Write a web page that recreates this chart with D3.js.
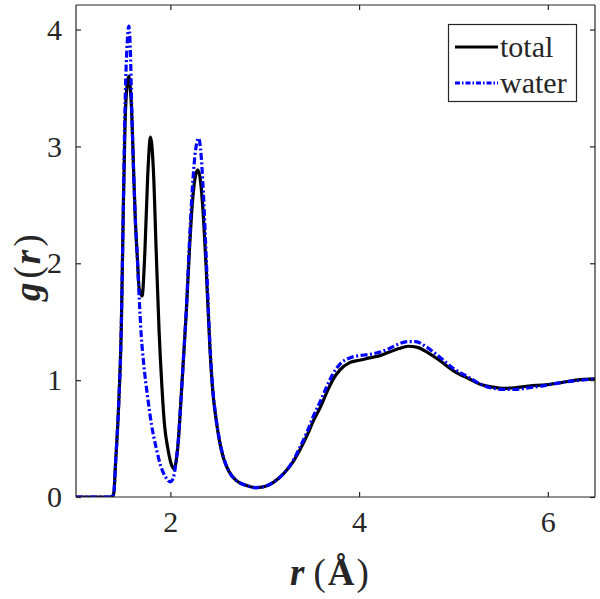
<!DOCTYPE html>
<html>
<head>
<meta charset="utf-8">
<script src="https://cdn.jsdelivr.net/npm/d3@7"></script>
<style>
  html, body { margin: 0; padding: 0; background: #fff; }
  svg { display: block; }
  text { font-family: "Liberation Serif", "DejaVu Serif", "Times New Roman", Times, serif; fill: #262626; }
</style>
</head>
<body>
<svg id="chart" width="600" height="599"></svg>
<script>
// ---- data ----
const totalR = [1.0, 1.38, 1.40, 1.42, 1.45, 1.48, 1.50, 1.52, 1.545, 1.56, 1.575, 1.59, 1.61, 1.63, 1.65, 1.67, 1.70, 1.73, 1.76, 1.79, 1.82, 1.85, 1.88, 1.91, 1.94, 1.97, 2.01, 2.04, 2.06, 2.085, 2.11, 2.14, 2.17, 2.20, 2.23, 2.26, 2.29, 2.32, 2.35, 2.38, 2.42, 2.45, 2.48, 2.52, 2.56, 2.62, 2.70, 2.80, 2.90, 3.00, 3.10, 3.20, 3.30, 3.37, 3.45, 3.52, 3.59, 3.66, 3.72, 3.80, 3.90, 4.00, 4.11, 4.22, 4.32, 4.42, 4.52, 4.62, 4.72, 4.85, 5.00, 5.17, 5.30, 5.42, 5.52, 5.65, 5.80, 5.98, 6.15, 6.30, 6.50];
const totalG = [0, 0, 0.03, 0.3, 0.75, 1.45, 2.4, 3.2, 3.55, 3.6, 3.5, 3.3, 2.8, 2.35, 2.05, 1.78, 1.72, 2.1, 2.75, 3.08, 2.8, 2.1, 1.43, 0.95, 0.6, 0.43, 0.28, 0.24, 0.3, 0.49, 0.8, 1.2, 1.6, 2.08, 2.48, 2.72, 2.8, 2.7, 2.4, 1.95, 1.26, 0.9, 0.69, 0.48, 0.34, 0.22, 0.14, 0.1, 0.08, 0.09, 0.13, 0.2, 0.3, 0.4, 0.53, 0.66, 0.77, 0.9, 1.0, 1.09, 1.15, 1.17, 1.19, 1.21, 1.24, 1.27, 1.29, 1.28, 1.24, 1.17, 1.08, 1.01, 0.96, 0.94, 0.93, 0.935, 0.95, 0.96, 0.98, 1.0, 1.01];

const waterR = [1.0, 1.38, 1.40, 1.42, 1.45, 1.48, 1.50, 1.52, 1.545, 1.56, 1.575, 1.59, 1.61, 1.63, 1.65, 1.67, 1.69, 1.72, 1.76, 1.80, 1.85, 1.90, 1.95, 2.00, 2.03, 2.06, 2.085, 2.11, 2.14, 2.17, 2.20, 2.23, 2.26, 2.28, 2.30, 2.32, 2.35, 2.38, 2.42, 2.45, 2.48, 2.52, 2.56, 2.62, 2.70, 2.80, 2.90, 3.00, 3.10, 3.20, 3.30, 3.37, 3.45, 3.52, 3.59, 3.66, 3.72, 3.80, 3.90, 4.00, 4.11, 4.22, 4.32, 4.42, 4.52, 4.60, 4.72, 4.85, 5.00, 5.17, 5.30, 5.42, 5.55, 5.65, 5.80, 5.98, 6.15, 6.30, 6.50];
const waterG = [0, 0, 0.03, 0.3, 0.75, 1.45, 2.4, 3.35, 3.92, 4.03, 3.85, 3.35, 2.8, 2.35, 2.05, 1.7, 1.4, 1.12, 0.85, 0.62, 0.42, 0.26, 0.17, 0.13, 0.16, 0.3, 0.49, 0.8, 1.2, 1.62, 2.15, 2.6, 2.92, 3.03, 3.07, 2.98, 2.6, 2.05, 1.3, 0.92, 0.7, 0.49, 0.35, 0.22, 0.14, 0.1, 0.08, 0.09, 0.13, 0.2, 0.31, 0.42, 0.56, 0.7, 0.82, 0.95, 1.05, 1.14, 1.19, 1.21, 1.22, 1.24, 1.27, 1.31, 1.33, 1.33, 1.28, 1.2, 1.1, 1.02, 0.96, 0.93, 0.92, 0.92, 0.935, 0.955, 0.98, 0.995, 1.01];

const xTicks = [2, 4, 6];
const yTicks = [0, 1, 2, 3, 4];
const legendLabels = ["total", "water"];

// ---- layout ----
const svg = d3.select("#chart");
const L = 76, R = 595, T = 5, B = 497;
const x = d3.scaleLinear().domain([1, 6.5]).range([L, R]);
const y = d3.scaleLinear().domain([0, 4.21]).range([B, T]);
const axisColor = "#262626";
const fs = 30;
const FONT = "'Liberation Serif', 'DejaVu Serif', 'Times New Roman', Times, serif";

svg.append("rect").attr("x", 0).attr("y", 0).attr("width", 600).attr("height", 599).attr("fill", "#fff");

svg.append("defs").append("clipPath").attr("id", "clip")
  .append("rect").attr("x", L).attr("y", T).attr("width", R - L).attr("height", B - T);

const line = d3.line().x(d => x(d[0])).y(d => y(d[1])).curve(d3.curveMonotoneX);
const totalData = totalR.map((r, i) => [r, totalG[i]]);
const waterData = waterR.map((r, i) => [r, waterG[i]]);

const plot = svg.append("g").attr("clip-path", "url(#clip)");
plot.append("path").datum(totalData).attr("d", line)
  .attr("fill", "none").attr("stroke", "#000").attr("stroke-width", 3.2).attr("stroke-linejoin", "round");
plot.append("path").datum(waterData).attr("d", line)
  .attr("fill", "none").attr("stroke", "#0000ff").attr("stroke-width", 3.2)
  .attr("stroke-dasharray", "7,2.5,2,2.5");

// ---- axes (box with inward ticks) ----
const tl = 5;
const axB = d3.axisBottom(x).tickValues(xTicks).tickSize(-tl).tickPadding(14).tickFormat(d3.format("d"));
const axL = d3.axisLeft(y).tickValues(yTicks).tickSize(-tl).tickPadding(14).tickFormat(d3.format("d"));
const axT = d3.axisTop(x).tickValues(xTicks).tickSize(-tl).tickFormat("");
const axR = d3.axisRight(y).tickValues(yTicks).tickSize(-tl).tickFormat("");

function style(g) {
  g.attr("font-family", FONT);
  g.selectAll("path").attr("stroke", axisColor).attr("stroke-width", 1.2);
  g.selectAll("line").attr("stroke", axisColor).attr("stroke-width", 1.2);
  g.selectAll("text").attr("fill", axisColor).style("font-family", FONT).style("font-size", fs + "px");
}
svg.append("g").attr("transform", `translate(0,${B})`).call(axB).call(style)
  .call(g => g.selectAll("path.domain").attr("d", `M${L},0H${R}`));
svg.append("g").attr("transform", `translate(${L},0)`).call(axL).call(style)
  .call(g => g.selectAll("path.domain").attr("d", `M0,${T}V${B}`));
svg.append("g").attr("transform", `translate(0,${T})`).call(axT).call(style)
  .call(g => g.selectAll("path.domain").attr("d", `M${L},0H${R}`));
svg.append("g").attr("transform", `translate(${R},0)`).call(axR).call(style)
  .call(g => g.selectAll("path.domain").attr("d", `M0,${T}V${B}`));

// ---- axis labels ----
const xl = svg.append("text").attr("x", 290).attr("y", 585).attr("text-anchor", "start")
  .style("font-family", FONT).style("font-size", "37px").attr("fill", axisColor);
xl.append("tspan").text("r").style("font-weight", "bold").style("font-style", "italic");
xl.append("tspan").attr("dx", 9).text("(");
xl.append("tspan").attr("dx", 2).text("Å").style("font-weight", "bold");
xl.append("tspan").attr("dx", 2).text(")");

const yl = svg.append("text").attr("transform", `translate(40,301) rotate(-90)`).attr("text-anchor", "start")
  .style("font-family", FONT).style("font-size", "37px").attr("fill", axisColor);
yl.append("tspan").text("g").style("font-weight", "bold").style("font-style", "italic");
yl.append("tspan").attr("dx", 4).text("(");
yl.append("tspan").attr("dx", 2).text("r").style("font-weight", "bold").style("font-style", "italic");
yl.append("tspan").attr("dx", 3).text(")");

// ---- legend ----
const lg = svg.append("g");
lg.append("rect").attr("x", 448.5).attr("y", 24.5).attr("width", 128).attr("height", 77)
  .attr("fill", "#fff").attr("stroke", axisColor).attr("stroke-width", 1.2);
const legStyles = [{ c: "#000", d: null, yy: 47 }, { c: "#0000ff", d: "5,2,1.5,2", yy: 83 }];
legendLabels.forEach((lab, i) => {
  const s = legStyles[i];
  const ln = lg.append("line").attr("x1", 455).attr("x2", 498).attr("y1", s.yy).attr("y2", s.yy)
    .attr("stroke", s.c).attr("stroke-width", 3.2);
  if (s.d) ln.attr("stroke-dasharray", s.d);
  lg.append("text").attr("x", 500).attr("y", s.yy + 10).text(lab)
    .style("font-family", FONT).style("font-size", "30px").attr("fill", "#000");
});
</script>
</body>
</html>
